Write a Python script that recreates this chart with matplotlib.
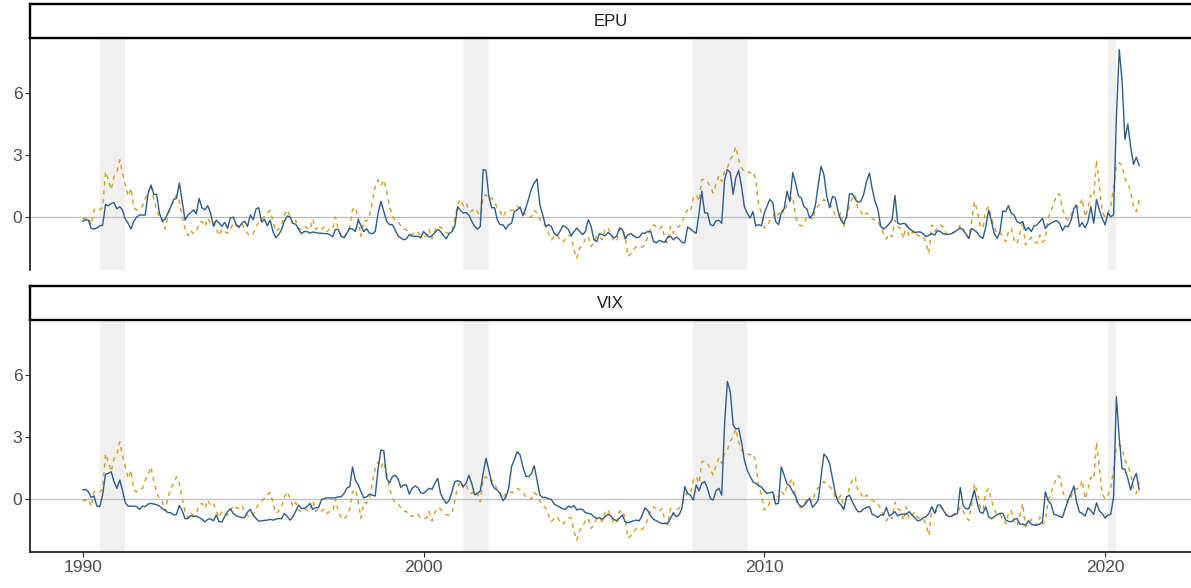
import numpy as np
import pandas as pd
import matplotlib
matplotlib.use("Agg")
import matplotlib.pyplot as plt

plt.rcParams['font.family'] = ['Liberation Sans', 'DejaVu Sans']

# monthly series, Jan 1990 - Jan 2021
epu = [
    -0.2, -0.13, -0.15, -0.55, -0.58, -0.53, -0.42, -0.4, 0.6, 0.55, 0.65, 0.7,
    0.4, 0.5, 0.35, -0.1, -0.3, -0.58, -0.2, 0, 0.1, 0.1, 0.1, 1.15,
    1.55, 1.1, 1.1, 0.2, -0.2, -0.1, 0.2, 0.5, 0.85, 0.9, 1.65, 0.75,
    -0.15, 0.1, 0.2, 0.35, 0.15, 0.9, 0.45, 0.35, 0.55, 0.2, -0.45, -0.15,
    -0.3, -0.45, -0.25, -0.55, -0.05, 0, -0.35, -0.5, -0.3, -0.2, -0.45, 0.1,
    -0.13, 0.4, 0.45, -0.25, -0.1, -0.42, -0.15, -0.7, -1.0, -0.85, -0.6, -0.2,
    0.05, 0, -0.3, -0.35, -0.58, -0.8, -0.7, -0.7, -0.78, -0.72, -0.75, -0.78,
    -0.78, -0.8, -0.8, -0.85, -0.95, -0.6, -0.6, -0.93, -1.0, -0.78, -0.55, -0.58,
    -0.7, -0.13, -0.42, -0.7, -0.56, -0.78, -0.8, -0.7, 0.2, 0.75, 0.27, -0.2,
    -0.37, -0.37, -0.6, -0.9, -1.0, -1.1, -1.05, -0.85, -0.93, -0.93, -0.93, -1.0,
    -0.7, -0.85, -0.97, -0.9, -0.75, -0.6, -0.7, -0.9, -1.05, -0.8, -0.7, -0.45,
    0.5, 0.32, 0.2, 0.22, 0.1, -0.2, -0.45, -0.58, -0.45, 2.3, 2.25, 1.0,
    0.45, 0.45, -0.13, -0.37, -0.37, -0.58, -0.37, -0.3, 0.27, 0.35, 0.48, 0.06,
    0.43, 0.9, 1.35, 1.65, 1.84, 0.6, 0.1, -0.45, -0.37, -0.45, -0.78, -0.9,
    -0.7, -0.42, -0.48, -0.6, -0.9, -0.7, -0.53, -0.7, -0.85, -0.7, -0.13, -0.45,
    -1.1, -1.18, -0.8, -0.85, -0.9, -0.75, -0.85, -1.0, -0.93, -0.53, -0.6, -1.05,
    -0.85, -0.8, -0.9, -1.0, -0.97, -0.78, -0.78, -0.7, -0.7, -1.18, -1.25, -1.13,
    -1.18, -1.22, -0.97, -0.93, -1.1, -0.97, -1.06, -1.22, -1.25, -0.48, -0.58, -0.7,
    -0.78, 0.2, 1.25, 0.2, 0.2, -0.37, -0.42, -0.18, -0.16, -0.3, 1.8, 2.3,
    2.15, 1.1, 1.9, 2.25, 1.5, 0.5, 0.2, -0.05, 0.27, -0.42, -0.37, -0.42,
    0.2, 0.55, 0.85, 0.7, -0.2, -0.37, 0.2, 0.4, 1.25, 0.75, 2.15, 1.65,
    1.03, 0.92, 0.5, 0.4, -0.05, 0.1, 0.55, 1.55, 2.45, 2.05, 1.0, 0.45,
    1.0, 0.92, 0.27, -0.16, -0.32, 0.03, 1.1, 1.13, 0.85, 0.72, 0.77, 1.1,
    1.73, 2.13, 1.4, 0.77, 0.4, -0.45, -0.58, -0.48, -0.32, -0.15, 1.05, -0.3,
    -0.35, -0.3, -0.35, -0.55, -0.65, -0.75, -0.72, -0.72, -0.82, -0.95, -0.87, -0.8,
    -0.87, -0.65, -0.7, -0.8, -0.84, -0.84, -0.8, -0.72, -0.63, -0.52, -0.63, -0.82,
    -1.03, -0.55, -0.63, -0.75, -0.95, -1.03, -0.47, 0.34, -0.22, -0.8, -1.03, -0.7,
    0.3, 0.26, 0.55, 0.18, 0.1, -0.22, -0.3, -0.22, -0.65, -0.5, -0.7, -0.43,
    -0.38, -0.22, -0.06, -0.55, -0.38, -0.3, -0.22, -0.17, -0.3, -0.65, -0.43, -0.47,
    -0.15, 0.42, 0.58, -0.47, -0.27, -0.52, -0.22, 0.5, -0.3, 0.85, 0.34, -0.06,
    -0.38, 0.2, 0.02, 0.1, 4.8, 8.1, 6.6, 3.75, 4.5, 3.4, 2.55, 2.9, 2.5,
]

vix = [
    0.45, 0.47, 0.35, 0.08, 0.15, -0.34, -0.37, 0.2, 1.2, 1.24, 1.32, 0.84,
    0.52, 0.92, 0.44, -0.18, -0.34, -0.34, -0.34, -0.37, -0.5, -0.34, -0.37, -0.24,
    -0.21, -0.24, -0.27, -0.34, -0.47, -0.53, -0.65, -0.66, -0.77, -0.74, -0.31, -0.56,
    -0.95, -0.94, -0.8, -0.85, -0.82, -0.89, -0.98, -1.1, -0.98, -0.95, -1.05, -0.77,
    -1.1, -1.1, -0.85, -0.61, -0.47, -0.69, -0.8, -0.85, -0.9, -0.89, -0.63, -0.5,
    -0.77, -0.94, -1.06, -1.06, -1.03, -1.02, -0.98, -1.02, -0.97, -0.94, -0.95, -0.69,
    -0.85, -1.02, -0.85, -0.58, -0.29, -0.45, -0.45, -0.37, -0.21, -0.5, -0.42, -0.42,
    -0.05, 0.03, 0.05, 0.06, 0.05, 0.06, 0.11, 0.11, 0.27, 0.53, 0.6, 1.55,
    0.9, 0.68, 0.35, 0.06, 0.11, 0.24, 0.19, 0.15, 1.48, 2.37, 2.34, 1.0,
    0.79, 1.08, 1.16, 1.0, 0.56, 0.68, 0.68, 0.24, 0.52, 0.63, 0.56, 0.31,
    0.27, 0.4, 0.52, 0.47, 0.76, 1.0, 0.27, 0, -0.21, -0.08, 0.35, 0.84,
    0.89, 0.84, 0.6, 0.76, 1.15, 0.76, 0.21, 0.27, 0.4, 1.24, 1.97, 1.4,
    0.76, 0.5, 0.44, 0.27, -0.08, 0.08, 0.52, 1.56, 1.92, 2.29, 2.13, 1.56,
    1.11, 1.08, 1.24, 1.61, 0.92, 0.19, 0.08, 0.08, 0.02, -0.02, -0.24, -0.32,
    -0.39, -0.47, -0.5, -0.34, -0.4, -0.31, -0.53, -0.48, -0.5, -0.66, -0.69, -0.73,
    -0.85, -0.95, -0.9, -0.98, -0.85, -0.74, -0.82, -0.98, -1.05, -0.92, -0.77, -1.1,
    -1.15, -1.1, -1.05, -1.02, -1.05, -0.79, -0.42, -0.56, -0.82, -0.98, -1.05, -1.13,
    -1.18, -1.18, -1.18, -0.94, -0.66, -0.85, -0.77, -0.45, 0.6, 0.27, 0.19, -0.05,
    0.68, 0.4, 0.76, 0.84, 0.52, 0.03, -0.05, 0.4, 0.52, 0.19, 3.66, 5.68,
    5.2, 3.58, 3.39, 3.42, 2.77, 1.89, 1.4, 1.11, 0.84, 0.76, 0.65, 0.58,
    0.4, 0.27, 0.31, 0.35, -0.24, -0.21, 1.56, 1.16, 0.73, 0.63, 0.35, 0.15,
    -0.24, -0.37, -0.32, -0.13, 0.03, -0.4, -0.24, -0.05, 1.08, 2.18, 2.02, 1.73,
    1.0, 0.27, -0.13, -0.29, -0.5, 0.11, 0.19, -0.13, -0.4, -0.61, -0.61, -0.48,
    -0.4, -0.37, -0.73, -0.79, -0.89, -0.76, -0.77, -0.4, -0.82, -0.73, -0.61, -0.82,
    -0.73, -0.73, -0.73, -0.61, -0.76, -0.89, -1.05, -1.02, -0.9, -0.85, -0.69, -0.37,
    -0.69, -0.29, -0.29, -0.53, -0.73, -0.85, -0.82, -0.76, -0.69, 0.56, -0.3, -0.47,
    -0.47, -0.05, 0.44, -0.21, -0.63, -0.69, -0.37, -0.85, -0.95, -0.85, -0.76, -0.69,
    -0.69, -1.02, -1.08, -1.1, -0.98, -0.94, -1.21, -1.21, -1.26, -1.05, -1.21, -1.26,
    -1.26, -1.21, -1.1, 0.35, -0.08, -0.24, -0.74, -0.77, -0.85, -0.89, -0.45, -0.05,
    0.27, 0.63, -0.13, -0.63, -0.69, -0.82, -0.42, -0.56, -0.74, -0.18, -0.58, -0.69,
    -0.92, -0.77, -0.74, 0.11, 4.95, 2.94, 1.48, 1.44, 1.0, 0.44, 0.95, 1.24, 0.45,
]

# dashed series (same in both panels)
other = [
    -0.1, -0.05, 0, -0.37, 0.35, 0.43, 0.35, 0.48, 2.2, 1.8, 1.32, 1.97,
    2.2, 2.77, 2.13, 1.56, 1.0, 1.4, 0.43, 0.35, 0.39, 0.52, 0.92, 1.16,
    1.56, 0.85, 0.35, 0, -0.1, -0.58, 0.06, 0.52, 0.76, 1.08, 0.76, 0.03,
    -0.6, -0.9, -0.65, -0.8, -0.7, -0.3, -0.2, -0.45, -0.05, -0.3, -0.2, -0.58,
    -0.9, -0.58, -0.7, -0.78, -0.6, -0.3, -0.42, -0.45, -0.3, -0.6, -0.8, -0.9,
    -0.8, -0.45, -0.25, -0.1, 0.03, 0.2, 0.32, -0.2, -0.7, -0.58, -0.37, 0.1,
    0.35, 0.03, -0.37, -0.16, -0.53, -0.6, -0.45, -0.53, -0.6, -0.1, -0.6, -0.48,
    -0.6, -0.48, -0.7, -0.6, -0.6, 0, -0.6, -0.9, -1.0, -0.8, -0.48, 0.35,
    0.48, -0.13, -0.93, -0.16, -0.2, 0.1, 0.75, 1.48, 1.8, 1.52, 1.8, 1.25,
    0.52, 0.06, -0.16, -0.2, -0.42, -0.58, -0.6, -0.8, -0.85, -0.7, -0.75, -0.9,
    -0.97, -0.9, -0.6, -1.06, -0.65, -0.42, -0.48, -0.65, -0.75, -0.78, -0.7, -0.05,
    0.6, 0.85, 0.55, 0.7, 0.35, 0.27, 0.43, 0.27, -0.13, 1.0, 1.08, 0.85,
    0.92, 0.75, 0.43, 0.27, 0, 0.27, 0.35, 0.32, 0.35, 0.52, 0.43, 0.35,
    0.1, 0, 0, 0.32, 0.2, -0.1, -0.32, -0.42, -0.78, -1.1, -0.93, -0.85,
    -1.1, -1.22, -1.06, -0.9, -0.9, -1.58, -2.0, -1.5, -1.34, -1.06, -0.93, -1.42,
    -1.25, -0.9, -0.93, -1.1, -0.6, -0.53, -0.85, -1.13, -1.18, -0.6, -0.53, -0.93,
    -1.9, -1.77, -1.58, -1.42, -1.5, -1.45, -1.34, -0.93, -0.53, -0.37, -0.48, -0.6,
    -0.45, -1.1, -1.25, -0.45, -0.78, -0.53, -0.45, -0.3, 0.1, 0.35, 0.27, 0.92,
    1.08, 0.76, 1.8, 1.84, 1.72, 1.45, 1.16, 1.6, 2.0, 1.72, 2.2, 2.37,
    2.8, 3.0, 3.4, 2.77, 2.37, 2.2, 2.2, 2.13, 2.2, 1.8, 0.6, 0.2,
    -0.53, -0.45, -0.16, 0, 0.27, 0.1, 0.39, 0.2, 0.6, 0.8, 1.0, 0.03,
    -0.37, -0.42, -0.37, 0.06, 0.03, -0.13, 0.35, 0.55, 0.7, 0.85, 0.7, 0.6,
    0.43, 0.06, 0, 0.2, -0.45, 0.1, 0.55, 0.92, 1.08, 0.35, 0.27, 0.03,
    0.2, 0.06, -0.05, -0.16, -0.2, -0.48, -0.78, -1.06, -0.8, -0.95, -0.15, -0.47,
    -0.55, -1.03, -0.38, -0.95, -0.8, -0.63, -0.87, -0.95, -0.95, -1.27, -1.76, -0.38,
    -0.7, -0.5, -0.38, -0.47, -0.8, -0.8, -0.8, -0.7, -0.7, -0.38, -0.55, -0.87,
    -1.03, -0.22, 0.75, 0.34, -0.38, -0.55, 0.34, 0.5, -0.06, -0.47, -0.8, -0.75,
    -0.95, -1.2, -0.7, -0.55, -1.1, -1.3, -0.8, -0.22, -1.35, -1.2, -0.98, -1.14,
    -1.27, -0.87, -1.2, -1.1, -0.06, 0.3, 0.66, 1.1, 1.1, 0.42, 0, -0.15,
    0.1, 0.42, 0.5, 0.5, 0.9, 0, 0.42, 1.06, 0.98, 2.75, 1.47, 0.26,
    0, 0.2, 0.5, 1.4, 2.5, 2.63, 2.5, 1.87, 1.63, 1.23, 0.5, 0.26, 0.82,
]

panels = ['EPU', 'VIX']
rec_start = ['1990-07-01', '2001-03-01', '2007-12-01', '2020-02-01']
rec_end = ['1991-03-31', '2001-11-30', '2009-06-30', '2020-04-30']


def dec_year(d):
    d = pd.to_datetime(d)
    return d.year + (d.dayofyear - 1) / (365 + d.is_leap_year)


months = pd.date_range('1990-01-01', periods=len(other), freq='MS')
x = np.asarray(dec_year(months))

W, H = 1191, 588
fig = plt.figure(figsize=(W / 100, H / 100), dpi=100)

blue = '#2c5d8a'
gold = '#d2a12c'

series = {'EPU': epu, 'VIX': vix}
tops = [38, 320]
for i, name in enumerate(panels):
    top = tops[i]
    ax = fig.add_axes([30 / W, 1 - (top + 232) / H, 1162 / W, 232 / H])
    for s, e in zip(rec_start, rec_end):
        ax.axvspan(dec_year(s), dec_year(e), color='#f0f0f0', lw=0, zorder=0)
    ax.axhline(0, color='#bdbdbd', lw=0.9, zorder=1)
    ax.plot(x[:len(series[name])], series[name], color=blue, lw=1.0, zorder=3)
    ax.plot(x, other, color=gold, lw=1.05, dashes=(3.0, 3.0), zorder=2)
    ax.set_xlim(1988.45, 2022.55)
    ax.set_ylim(-2.56, 8.66)
    ax.set_yticks([0, 3, 6])
    for sp in ['top', 'right']:
        ax.spines[sp].set_visible(False)
    ax.spines['left'].set_linewidth(1.1)
    ax.tick_params(axis='y', length=3.5, width=0.8, color='#333333',
                   labelsize=12.5, labelcolor='#4d4d4d', pad=2)
    if i == 0:
        ax.spines['bottom'].set_visible(False)
        ax.set_xticks([])
    else:
        ax.spines['bottom'].set_linewidth(1.1)
        ax.set_xticks([1990, 2000, 2010, 2020])
        ax.tick_params(axis='x', length=3.5, width=0.8, color='#333333',
                       labelsize=12.5, labelcolor='#4d4d4d', pad=2)

    # facet strip, runs off the right edge like the original
    st = fig.add_axes([30 / W, 1 - top / H, 1180 / W, 34 / H])
    st.set_xticks([])
    st.set_yticks([])
    for sp in st.spines.values():
        sp.set_linewidth(1.7)
        sp.set_color('black')
    st.text(1161 / 2 / 1180, 0.5, name, ha='center', va='center', fontsize=12,
            color='#1a1a1a', transform=st.transAxes)

fig.savefig('out.png', dpi=100)
